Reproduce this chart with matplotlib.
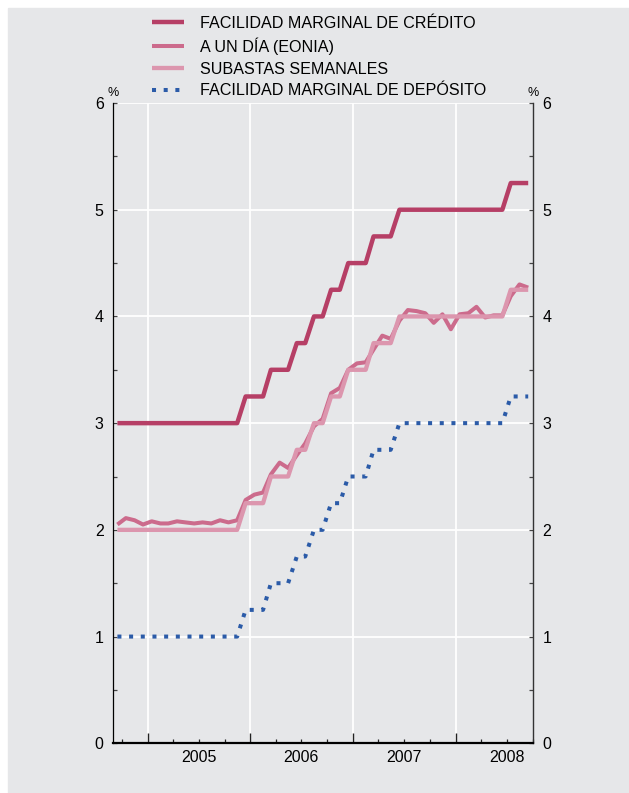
import numpy as np
import pandas as pd
import matplotlib
matplotlib.use("Agg")
import matplotlib.pyplot as plt
import matplotlib.dates as mdates
from matplotlib.patches import Rectangle
from matplotlib.transforms import blended_transform_factory

plt.rcParams['font.family'] = ['Liberation Sans', 'DejaVu Sans']

# datos mensuales, sep 2004 - sep 2008
fechas = pd.date_range('2004-09-01', '2008-09-01', freq='MS') + pd.Timedelta(days=14)

credito = [3.0, 3.0, 3.0, 3.0, 3.0, 3.0, 3.0, 3.0, 3.0, 3.0, 3.0, 3.0, 3.0, 3.0, 3.0,
           3.25, 3.25, 3.25, 3.5, 3.5, 3.5, 3.75, 3.75, 4.0, 4.0, 4.25, 4.25,
           4.5, 4.5, 4.5, 4.75, 4.75, 4.75,
           5.0, 5.0, 5.0, 5.0, 5.0, 5.0, 5.0, 5.0, 5.0, 5.0, 5.0, 5.0, 5.0,
           5.25, 5.25, 5.25]
eonia = [2.05, 2.11, 2.09, 2.05, 2.08, 2.06, 2.06, 2.08, 2.07, 2.06, 2.07, 2.06, 2.09, 2.07, 2.09,
         2.28, 2.33, 2.35, 2.52, 2.63, 2.58, 2.70, 2.81, 2.97, 3.04, 3.28, 3.33,
         3.50, 3.56, 3.57, 3.69, 3.82, 3.79,
         3.96, 4.06, 4.05, 4.03, 3.94, 4.02, 3.88, 4.02, 4.03, 4.09, 3.99, 4.01, 4.01,
         4.19, 4.30, 4.27]
subastas = [2.0, 2.0, 2.0, 2.0, 2.0, 2.0, 2.0, 2.0, 2.0, 2.0, 2.0, 2.0, 2.0, 2.0, 2.0,
            2.25, 2.25, 2.25, 2.5, 2.5, 2.5, 2.75, 2.75, 3.0, 3.0, 3.25, 3.25,
            3.5, 3.5, 3.5, 3.75, 3.75, 3.75,
            4.0, 4.0, 4.0, 4.0, 4.0, 4.0, 4.0, 4.0, 4.0, 4.0, 4.0, 4.0, 4.0,
            4.25, 4.25, 4.25]
deposito = [1.0, 1.0, 1.0, 1.0, 1.0, 1.0, 1.0, 1.0, 1.0, 1.0, 1.0, 1.0, 1.0, 1.0, 1.0,
            1.25, 1.25, 1.25, 1.5, 1.5, 1.5, 1.75, 1.75, 2.0, 2.0, 2.25, 2.25,
            2.5, 2.5, 2.5, 2.75, 2.75, 2.75,
            3.0, 3.0, 3.0, 3.0, 3.0, 3.0, 3.0, 3.0, 3.0, 3.0, 3.0, 3.0, 3.0,
            3.25, 3.25, 3.25]
anios = [2005, 2006, 2007, 2008]

gris = '#e6e7e9'
c_cred = '#b63f66'
c_eonia = '#cc6b8c'
c_sub = '#dc96ae'
c_dep = '#2b5ba8'

fig = plt.figure(figsize=(6.29, 7.93), dpi=100)
fondo = Rectangle((8/629, 0), 1, 1 - 8/793, transform=fig.transFigure,
                  color=gris, zorder=-10)
fig.patches.append(fondo)
ax = fig.add_axes([0.1804, 0.0627, 0.6665, 0.8074])
ax.set_facecolor(gris)

l1, = ax.plot(fechas, credito, color=c_cred, lw=3.2, solid_capstyle='butt',
              label='FACILIDAD MARGINAL DE CRÉDITO')
l2, = ax.plot(fechas, eonia, color=c_eonia, lw=2.9, solid_capstyle='butt',
              label='A UN DÍA (EONIA)')
l3, = ax.plot(fechas, subastas, color=c_sub, lw=3.1, solid_capstyle='butt',
              label='SUBASTAS SEMANALES')
l4, = ax.plot(fechas, deposito, color=c_dep, lw=2.9, linestyle=(0, (1, 1.9)),
              dash_capstyle='butt', label='FACILIDAD MARGINAL DE DEPÓSITO')

ax.set_xlim(pd.Timestamp('2004-09-01'), pd.Timestamp('2008-10-01'))
ax.set_ylim(0, 6)
ax.set_yticks(range(0, 7))
ax.set_yticks(np.arange(0.5, 6, 1), minor=True)
ax.xaxis.set_major_locator(mdates.YearLocator())
ax.xaxis.set_minor_locator(mdates.MonthLocator(bymonth=[1, 4, 7, 10]))
ax.xaxis.set_major_formatter(plt.NullFormatter())
ax.xaxis.set_minor_formatter(plt.NullFormatter())

ax.grid(True, which='major', color='white', lw=1.3)
ax.set_axisbelow(True)

ax.spines['top'].set_visible(False)
ax.spines['bottom'].set_linewidth(1.6)
ax.spines['left'].set_linewidth(0.9)
ax.spines['right'].set_linewidth(1.0)
ax.spines['right'].set_color('#333333')

ax.tick_params(axis='y', which='both', direction='in', left=True, right=True,
               labelleft=True, labelright=True, labelsize=11.5, pad=7,
               color='#444444')
ax.tick_params(axis='y', which='major', length=3, width=0.9)
ax.tick_params(axis='y', which='minor', length=3, width=0.9)
ax.tick_params(axis='x', which='major', direction='in', length=7, width=1.0, color='#222222')
ax.tick_params(axis='x', which='minor', direction='in', length=3, width=0.9, color='#222222')

trans = blended_transform_factory(ax.transData, ax.transAxes)
for a in anios:
    ax.text(pd.Timestamp(f'{a}-07-01'), -0.011, str(a), transform=trans,
            ha='center', va='top', fontsize=11.5)

ax.text(0, 1.006, '%', transform=ax.transAxes, ha='center', va='bottom', fontsize=9)
ax.text(1, 1.006, '%', transform=ax.transAxes, ha='center', va='bottom', fontsize=9)

fig.legend(handles=[l1, l2, l3, l4], loc='upper left',
           bbox_to_anchor=(152/629, 1 - 15.5/793), frameon=False, fontsize=11.6,
           borderpad=0, borderaxespad=0, handlelength=2.0, handletextpad=1.0,
           labelspacing=0.42)

fig.savefig('out.png', dpi=100)
